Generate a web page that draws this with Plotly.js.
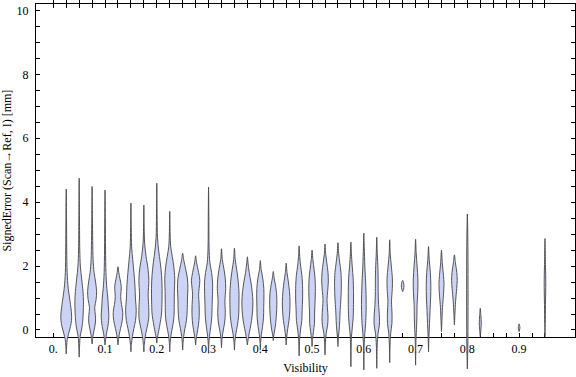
<!DOCTYPE html>
<html>
<head>
<meta charset="utf-8">
<script src="https://cdn.plot.ly/plotly-3.0.1.min.js"></script>
<style>html,body{margin:0;padding:0;background:#fff;}#chart{width:576px;height:377px;}</style>
</head>
<body>
<div id="chart"></div>
<script>
// Visibility bin centres (one violin per bin)
const positions = [0.025,0.05,0.075,0.1,0.125,0.15,0.175,0.2,0.225,0.25,0.275,0.3,0.325,0.35,0.375,0.4,0.425,0.45,0.475,0.5,0.525,0.55,0.575,0.6,0.625,0.65,0.675,0.7,0.725,0.75,0.775,0.8,0.825,0.9,0.95];

// Signed error levels (mm) along each violin outline, top to bottom
const profileY = [
 [4.41,3.5,2.5,1.8,1.3,0.9,0.5,0.3,0.1,-0.1,-0.3,-0.5,-0.75],
 [4.75,3.5,2.5,2.0,1.6,1.2,0.9,0.5,0.2,0.0,-0.2,-0.5,-0.85],
 [4.49,3.5,2.8,2.2,1.8,1.5,1.2,0.95,0.7,0.45,0.25,0.0,-0.2,-0.44],
 [4.38,3.5,2.5,1.8,1.3,1.0,0.75,0.5,0.3,0.1,-0.1,-0.3,-0.47],
 [1.98,1.8,1.6,1.35,1.05,0.8,0.55,0.3,0.05,-0.15,-0.3,-0.47],
 [3.97,3.2,2.6,2.2,1.8,1.4,1.0,0.6,0.3,0.05,-0.2,-0.45,-0.68],
 [3.91,3.2,2.7,2.3,1.9,1.55,1.1,0.7,0.35,0.05,-0.2,-0.45,-0.69],
 [4.59,3.6,2.9,2.5,2.1,1.7,1.3,0.9,0.5,0.15,-0.1,-0.25,-0.41],
 [3.71,3.0,2.6,2.3,2.0,1.6,1.2,0.8,0.4,0.1,-0.15,-0.4,-0.68],
 [2.4,2.2,1.9,1.6,1.3,1.0,0.6,0.3,0.05,-0.2,-0.4,-0.63],
 [2.32,2.1,1.8,1.55,1.3,1.1,0.8,0.45,0.15,-0.1,-0.3,-0.47],
 [4.47,3.5,2.6,2.1,1.8,1.5,1.2,0.8,0.4,0.1,-0.2,-0.45,-0.73],
 [2.54,2.2,1.9,1.6,1.3,0.9,0.55,0.25,0.0,-0.25,-0.56],
 [2.56,2.2,1.9,1.6,1.2,0.8,0.45,0.15,-0.1,-0.35,-0.63],
 [2.29,2.1,1.8,1.5,1.2,0.9,0.6,0.3,0.05,-0.2,-0.47],
 [2.17,1.9,1.6,1.3,1.0,0.7,0.4,0.1,-0.15,-0.4,-0.63],
 [1.83,1.6,1.4,1.1,0.8,0.5,0.2,0.0,-0.15,-0.33],
 [2.09,1.8,1.5,1.2,0.9,0.6,0.3,0.05,-0.2,-0.47],
 [2.63,2.3,2.0,1.7,1.3,1.0,0.6,0.3,0.0,-0.3,-0.81],
 [2.5,2.2,1.9,1.6,1.2,0.9,0.5,0.2,-0.05,-0.3,-0.52],
 [2.69,2.4,2.1,1.8,1.5,1.2,0.95,0.7,0.4,0.15,-0.1,-0.4,-0.78],
 [2.73,2.4,2.1,1.8,1.4,1.0,0.6,0.3,0.0,-0.25,-0.52],
 [2.75,2.4,2.0,1.6,1.2,0.8,0.4,0.1,-0.2,-0.6,-1.15],
 [3.03,2.6,2.0,1.5,1.0,0.6,0.2,-0.1,-0.5,-1.25],
 [2.9,2.4,1.9,1.6,1.2,0.8,0.4,0.15,-0.1,-0.5,-1.2],
 [2.82,2.4,2.0,1.6,1.3,0.9,0.5,0.2,-0.1,-0.5,-1.02],
 [1.55,1.48,1.38,1.28,1.2],
 [2.84,2.4,2.0,1.6,1.2,0.8,0.4,0.1,-0.3,-1.1],
 [2.61,2.2,1.8,1.4,1.0,0.6,0.2,-0.2,-0.69],
 [2.5,2.1,1.7,1.45,1.1,0.7,0.3,-0.05],
 [2.35,2.1,1.8,1.55,1.3,0.9,0.5,0.16],
 [3.63,2.5,1.5,0.5,-0.5,-1.22],
 [0.68,0.45,0.22,0.0,-0.21],
 [0.19,0.07,-0.05],
 [2.86,2.0,1.5,0.8,0.2,-0.21]
];

// Relative density at each of those levels (violin half-width)
const profileDensity = [
 [0,0.3,0.5,0.9,2.0,3.8,5.3,5.3,4.2,2.5,1.0,0.4,0],
 [0,0.3,0.6,1.2,2.5,3.8,4.3,4.0,3.3,2.3,1.0,0.4,0],
 [0,0.3,0.6,1.0,2.0,3.5,4.5,4.0,2.6,3.3,3.4,2.0,0.8,0],
 [0,0.3,0.5,0.9,1.8,2.8,3.2,3.8,3.6,2.8,1.5,0.6,0],
 [0,0.8,2.0,3.3,2.7,3.5,4.8,4.3,2.6,1.2,0.5,0],
 [0,0.3,0.7,1.8,3.0,4.0,4.5,5.3,4.6,3.0,1.5,0.5,0],
 [0,0.3,0.8,2.2,4.2,5.0,4.3,4.9,4.8,3.0,1.4,0.5,0],
 [0,0.3,0.7,1.8,3.5,4.8,5.3,5.2,4.7,3.0,1.5,0.5,0],
 [0,0.4,1.0,2.5,4.0,5.0,4.6,4.5,4.2,2.8,1.3,0.4,0],
 [0,1.0,3.0,4.8,5.2,4.8,4.5,3.8,2.3,1.0,0.4,0],
 [0,1.0,3.0,4.2,3.5,3.0,3.5,3.6,2.8,1.5,0.5,0],
 [0,0.3,0.5,1.3,3.0,4.0,4.0,3.6,3.2,2.2,0.9,0.3,0],
 [0,0.8,2.5,3.8,4.2,3.4,3.8,3.2,1.8,0.6,0],
 [0,0.8,2.2,3.5,4.5,4.5,4.2,3.0,1.5,0.5,0],
 [0,0.6,1.8,3.5,4.8,5.5,5.2,4.2,2.8,1.2,0],
 [0,0.8,2.5,3.5,3.6,3.4,3.2,2.2,1.0,0.3,0],
 [0,1.0,2.2,3.4,3.6,3.2,2.4,1.5,0.6,0],
 [0,0.8,2.2,3.3,3.8,3.6,2.8,1.6,0.6,0],
 [0,0.6,1.5,2.8,3.5,3.5,3.0,2.7,1.4,0.5,0],
 [0,0.8,2.0,3.0,3.3,3.0,2.5,2.4,1.4,0.5,0],
 [0,0.6,1.8,3.0,3.3,2.6,2.0,2.4,3.0,2.6,1.2,0.4,0],
 [0,0.7,1.8,3.0,3.4,3.0,2.2,1.8,1.2,0.4,0],
 [0,0.5,1.3,2.3,2.6,2.6,2.3,1.5,0.6,0.2,0],
 [0,0.4,1.0,1.8,2.3,2.3,1.8,1.0,0.3,0],
 [0,0.5,1.2,1.4,1.4,1.8,2.7,2.6,1.3,0.4,0],
 [0,0.5,1.6,2.7,2.6,1.8,2.3,2.2,1.0,0.3,0],
 [0,0.9,1.3,0.9,0],
 [0,0.6,1.5,2.3,2.2,1.5,1.3,1.0,0.4,0],
 [0,0.7,1.8,2.3,2.1,1.5,1.0,0.4,0],
 [0,0.8,2.0,2.5,2.0,1.0,0.5,0],
 [0,1.0,2.4,2.8,2.3,1.2,0.5,0],
 [0,0.6,0.7,0.7,0.5,0],
 [0,0.6,1.0,0.6,0],
 [0,0.8,0],
 [0,0.5,0.8,0.5,0.3,0]
];

// Axis ticks
const xTickVals = [];
const xTickText = [];
for (let k = 0; k <= 38; k++) {
  const v = +(k * 0.025).toFixed(3);
  xTickVals.push(v);
  xTickText.push(k % 4 === 0 ? (k === 0 ? '0.' : String(+(v).toFixed(1))) : '');
}
const yTickVals = [];
const yTickText = [];
for (let k = 0; k <= 20; k++) {
  yTickVals.push(k * 0.5);
  yTickText.push(k % 4 === 0 ? String(k / 2) : '');
}

const DENSITY_SCALE = 1 / 517.6; // x-units per density unit

const traces = [{
  type: 'scatter', mode: 'lines', x: [], y: [], xaxis: 'x', yaxis: 'y',
  hoverinfo: 'skip', showlegend: false
}];
positions.forEach((pos, i) => {
  const ys = profileY[i], ds = profileDensity[i];
  const xs = [], yy = [];
  for (let j = 0; j < ys.length; j++) { xs.push(pos + ds[j] * DENSITY_SCALE); yy.push(ys[j]); }
  for (let j = ys.length - 1; j >= 0; j--) { xs.push(pos - ds[j] * DENSITY_SCALE); yy.push(ys[j]); }
  traces.push({
    type: 'scatter', mode: 'lines', x: xs, y: yy,
    xaxis: 'x', yaxis: 'y2',
    fill: 'toself', fillcolor: '#ccd3f4',
    line: {color: 'rgba(70,70,70,0.9)', width: 1, shape: 'spline', smoothing: 0.9},
    hoverinfo: 'skip', showlegend: false
  });
});

const font = {family: '"Liberation Serif", "Times New Roman", serif', size: 12, color: '#000'};

const layout = {
  width: 576, height: 377,
  margin: {l: 36, r: 1, t: 4, b: 0},
  paper_bgcolor: '#fff', plot_bgcolor: 'rgba(0,0,0,0)',
  font: font,
  showlegend: false,
  xaxis: {
    anchor: 'y', range: [-0.0334, 1.008],
    tickmode: 'array', tickvals: xTickVals, ticktext: xTickText,
    ticks: 'inside', ticklen: 4, tickwidth: 1, tickcolor: '#000',
    showline: true, linecolor: '#000', linewidth: 1, mirror: 'allticks',
    showgrid: false, zeroline: false,
    tickfont: font,
    title: {text: 'Visibility', font: font, standoff: 8}
  },
  yaxis: {
    domain: [0.1064, 1], anchor: 'x', range: [-0.229, 10.2],
    tickmode: 'array', tickvals: yTickVals, ticktext: yTickText,
    ticks: 'inside', ticklen: 4, tickwidth: 1, tickcolor: '#000',
    showline: true, linecolor: '#000', linewidth: 1, mirror: 'allticks',
    showgrid: false, zeroline: false,
    tickfont: font, ticklabelstandoff: 4,
    title: {text: 'SignedError (Scan\u2192Ref, I) [mm]', font: font, standoff: 4}
  },
  yaxis2: {
    domain: [0, 1], anchor: 'x', range: [-1.472, 10.2],
    visible: false, showgrid: false, zeroline: false
  }
};

Plotly.newPlot('chart', traces, layout, {staticPlot: true, displayModeBar: false});
</script>
</body>
</html>
